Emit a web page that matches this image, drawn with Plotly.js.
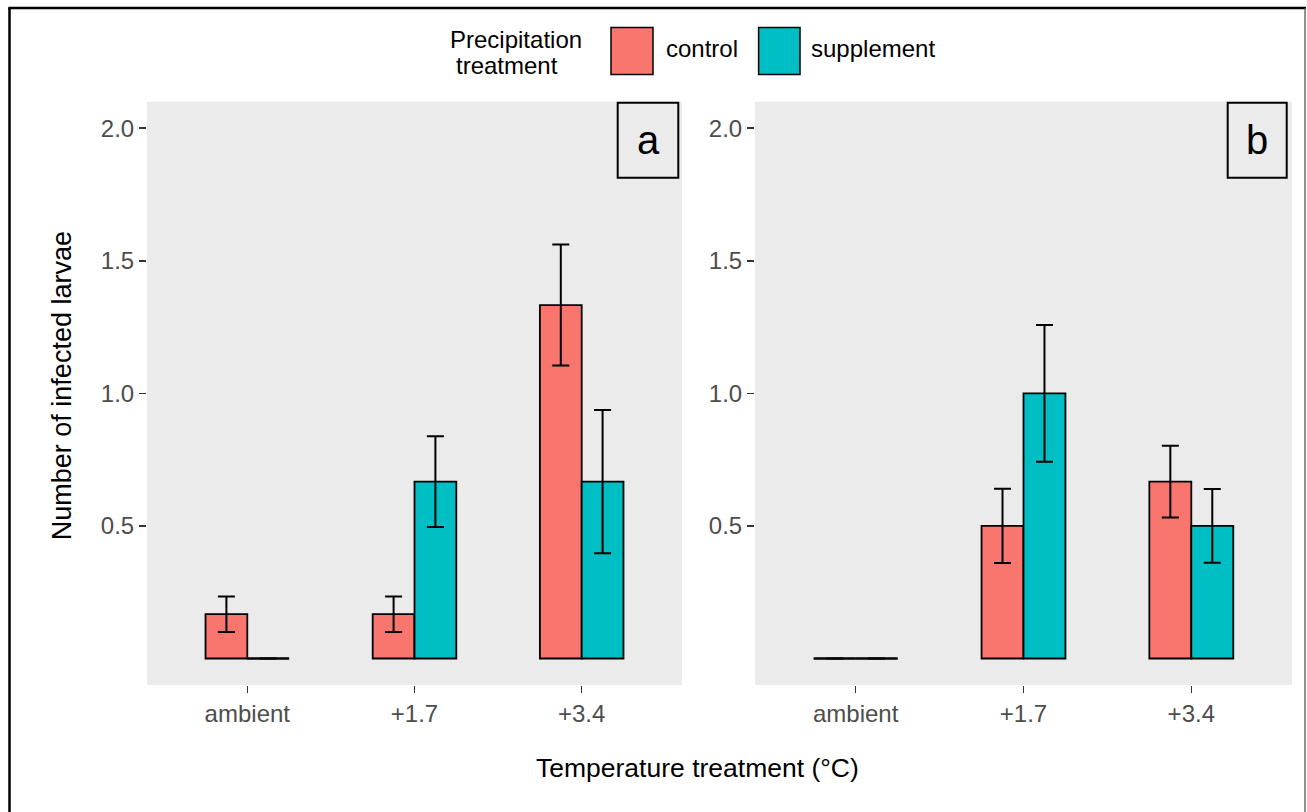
<!DOCTYPE html>
<html>
<head>
<meta charset="utf-8">
<script src="https://cdn.plot.ly/plotly-3.0.1.min.js"></script>
<style>html,body{margin:0;padding:0;background:#fff;}#chart{width:1307px;height:812px;}</style>
</head>
<body>
<div id="chart"></div>
<script>
// ---- data ----
const categories = ["ambient", "+1.7", "+3.4"];
const seriesNames = ["control", "supplement"];
const seriesColors = ["#F8766D", "#00BFC4"];
const panelLabels = ["a", "b"];

const controlA = [0.167, 0.167, 1.333];
const supplementA = [0, 0.667, 0.667];
const controlAErr = [0.067, 0.067, 0.228];
const supplementAErr = [0, 0.171, 0.27];

const controlB = [0, 0.5, 0.667];
const supplementB = [0, 1.0, 0.5];
const controlBErr = [0, 0.14, 0.135];
const supplementBErr = [0, 0.258, 0.139];

const yTickVals = [0.5, 1.0, 1.5, 2.0];
const yTickText = ["0.5", "1.0", "1.5", "2.0"];

// ---- layout helpers ----
const W = 1307, H = 812;
const px = v => v / W;
const py = v => 1 - v / H;
const FONT = "Liberation Sans, Arial, sans-serif";
const catIdx = categories.map((c, i) => i);
const BW = 0.25;
const offsets = [-BW, 0];

function barTrace(vals, errs, s, xa, ya) {
  return {
    type: "bar", x: catIdx, y: vals, xaxis: xa, yaxis: ya,
    name: seriesNames[s], showlegend: false,
    offset: offsets[s], width: BW,
    marker: {color: seriesColors[s], line: {color: "#000", width: 1.8}},
    error_y: {type: "data", array: errs, visible: true, color: "#000", thickness: 2, width: 8.5},
    hoverinfo: "x+y"
  };
}
function zeroTrace(vals, s, xa, ya) {
  const xs = [], ys = [];
  vals.forEach((v, i) => {
    if (v === 0) { xs.push(i + offsets[s], i + offsets[s] + BW, null); ys.push(v, v, null); }
  });
  return {type: "scatter", mode: "lines", x: xs, y: ys, xaxis: xa, yaxis: ya,
    line: {color: "#000", width: 2}, showlegend: false, hoverinfo: "skip"};
}

const data = [
  barTrace(controlA, controlAErr, 0, "x", "y"),
  barTrace(supplementA, supplementAErr, 1, "x", "y"),
  barTrace(controlB, controlBErr, 0, "x2", "y2"),
  barTrace(supplementB, supplementBErr, 1, "x2", "y2"),
  zeroTrace(controlA, 0, "x", "y"),
  zeroTrace(supplementA, 1, "x", "y"),
  zeroTrace(controlB, 0, "x2", "y2"),
  zeroTrace(supplementB, 1, "x2", "y2")
];

function xAxis(domain, anchor) {
  return {
    domain: domain, anchor: anchor, range: [-0.6, 2.6],
    tickmode: "array", tickvals: catIdx, ticktext: categories,
    ticks: "outside", ticklen: 7, tickwidth: 1.6, tickcolor: "#333",
    tickfont: {family: FONT, size: 24, color: "#4D4D4D"},
    showgrid: false, zeroline: false, showline: false, fixedrange: true
  };
}
function yAxis(domain, anchor) {
  return {
    domain: domain, anchor: anchor, range: [-0.1, 2.1],
    tickmode: "array", tickvals: yTickVals, ticktext: yTickText,
    ticks: "outside", ticklen: 7, tickwidth: 1.6, tickcolor: "#333",
    tickfont: {family: FONT, size: 24, color: "#4D4D4D"},
    showgrid: false, zeroline: false, showline: false, fixedrange: true
  };
}

const yDom = [(H - 685) / H, (H - 101.7) / H];

const shapes = [
  // outer frame
  {type: "line", xref: "paper", yref: "paper", x0: px(9.5), x1: px(9.5), y0: py(8), y1: py(830), line: {color: "#000", width: 2.5}},
  {type: "line", xref: "paper", yref: "paper", x0: px(8.3), x1: px(1306), y0: py(8), y1: py(8), line: {color: "#000", width: 2.5}},
  {type: "line", xref: "paper", yref: "paper", x0: px(1305), x1: px(1305), y0: py(8), y1: py(830), line: {color: "#555", width: 1.3}},
  // panel label boxes
  {type: "rect", xref: "paper", yref: "paper", x0: px(617.7), x1: px(678.3), y0: py(102.7), y1: py(177.7), fillcolor: "#EBEBEB", line: {color: "#000", width: 2}},
  {type: "rect", xref: "paper", yref: "paper", x0: px(1227.7), x1: px(1286.7), y0: py(102.7), y1: py(177.7), fillcolor: "#EBEBEB", line: {color: "#000", width: 2}},
  // legend swatches
  {type: "rect", xref: "paper", yref: "paper", x0: px(611), x1: px(653), y0: py(27.5), y1: py(74.6), fillcolor: seriesColors[0], line: {color: "#000", width: 1.5}},
  {type: "rect", xref: "paper", yref: "paper", x0: px(758.6), x1: px(800), y0: py(27.5), y1: py(74.6), fillcolor: seriesColors[1], line: {color: "#000", width: 1.5}}
];

const ann = (text, x, y, size, opts) => Object.assign({
  text: text, xref: "paper", yref: "paper", x: px(x), y: py(y),
  showarrow: false, font: {family: FONT, size: size, color: "#000"},
  xanchor: "center", yanchor: "middle"
}, opts || {});

const annotations = [
  ann(panelLabels[0], 648, 140.2, 40),
  ann(panelLabels[1], 1257.2, 140.2, 40),
  ann("Precipitation", 516, 39.5, 24),
  ann("treatment", 507, 65.5, 24),
  ann(seriesNames[0], 664, 48, 24, {xanchor: "left"}),
  ann(seriesNames[1], 809, 48, 24, {xanchor: "left"}),
  ann("Temperature treatment (°C)", 697, 768, 26.5),
  ann("Number of infected larvae", 61.7, 385.5, 27, {textangle: -90})
];

const layout = {
  width: W, height: H,
  margin: {l: 0, r: 0, t: 0, b: 0},
  paper_bgcolor: "#fff", plot_bgcolor: "#EBEBEB",
  barmode: "overlay",
  showlegend: false,
  xaxis: xAxis([147 / W, 682 / W], "y"),
  yaxis: yAxis(yDom, "x"),
  xaxis2: xAxis([755 / W, 1292 / W], "y2"),
  yaxis2: yAxis(yDom, "x2"),
  shapes: shapes,
  annotations: annotations
};

Plotly.newPlot("chart", data, layout, {displayModeBar: false, staticPlot: true});
</script>
</body>
</html>
